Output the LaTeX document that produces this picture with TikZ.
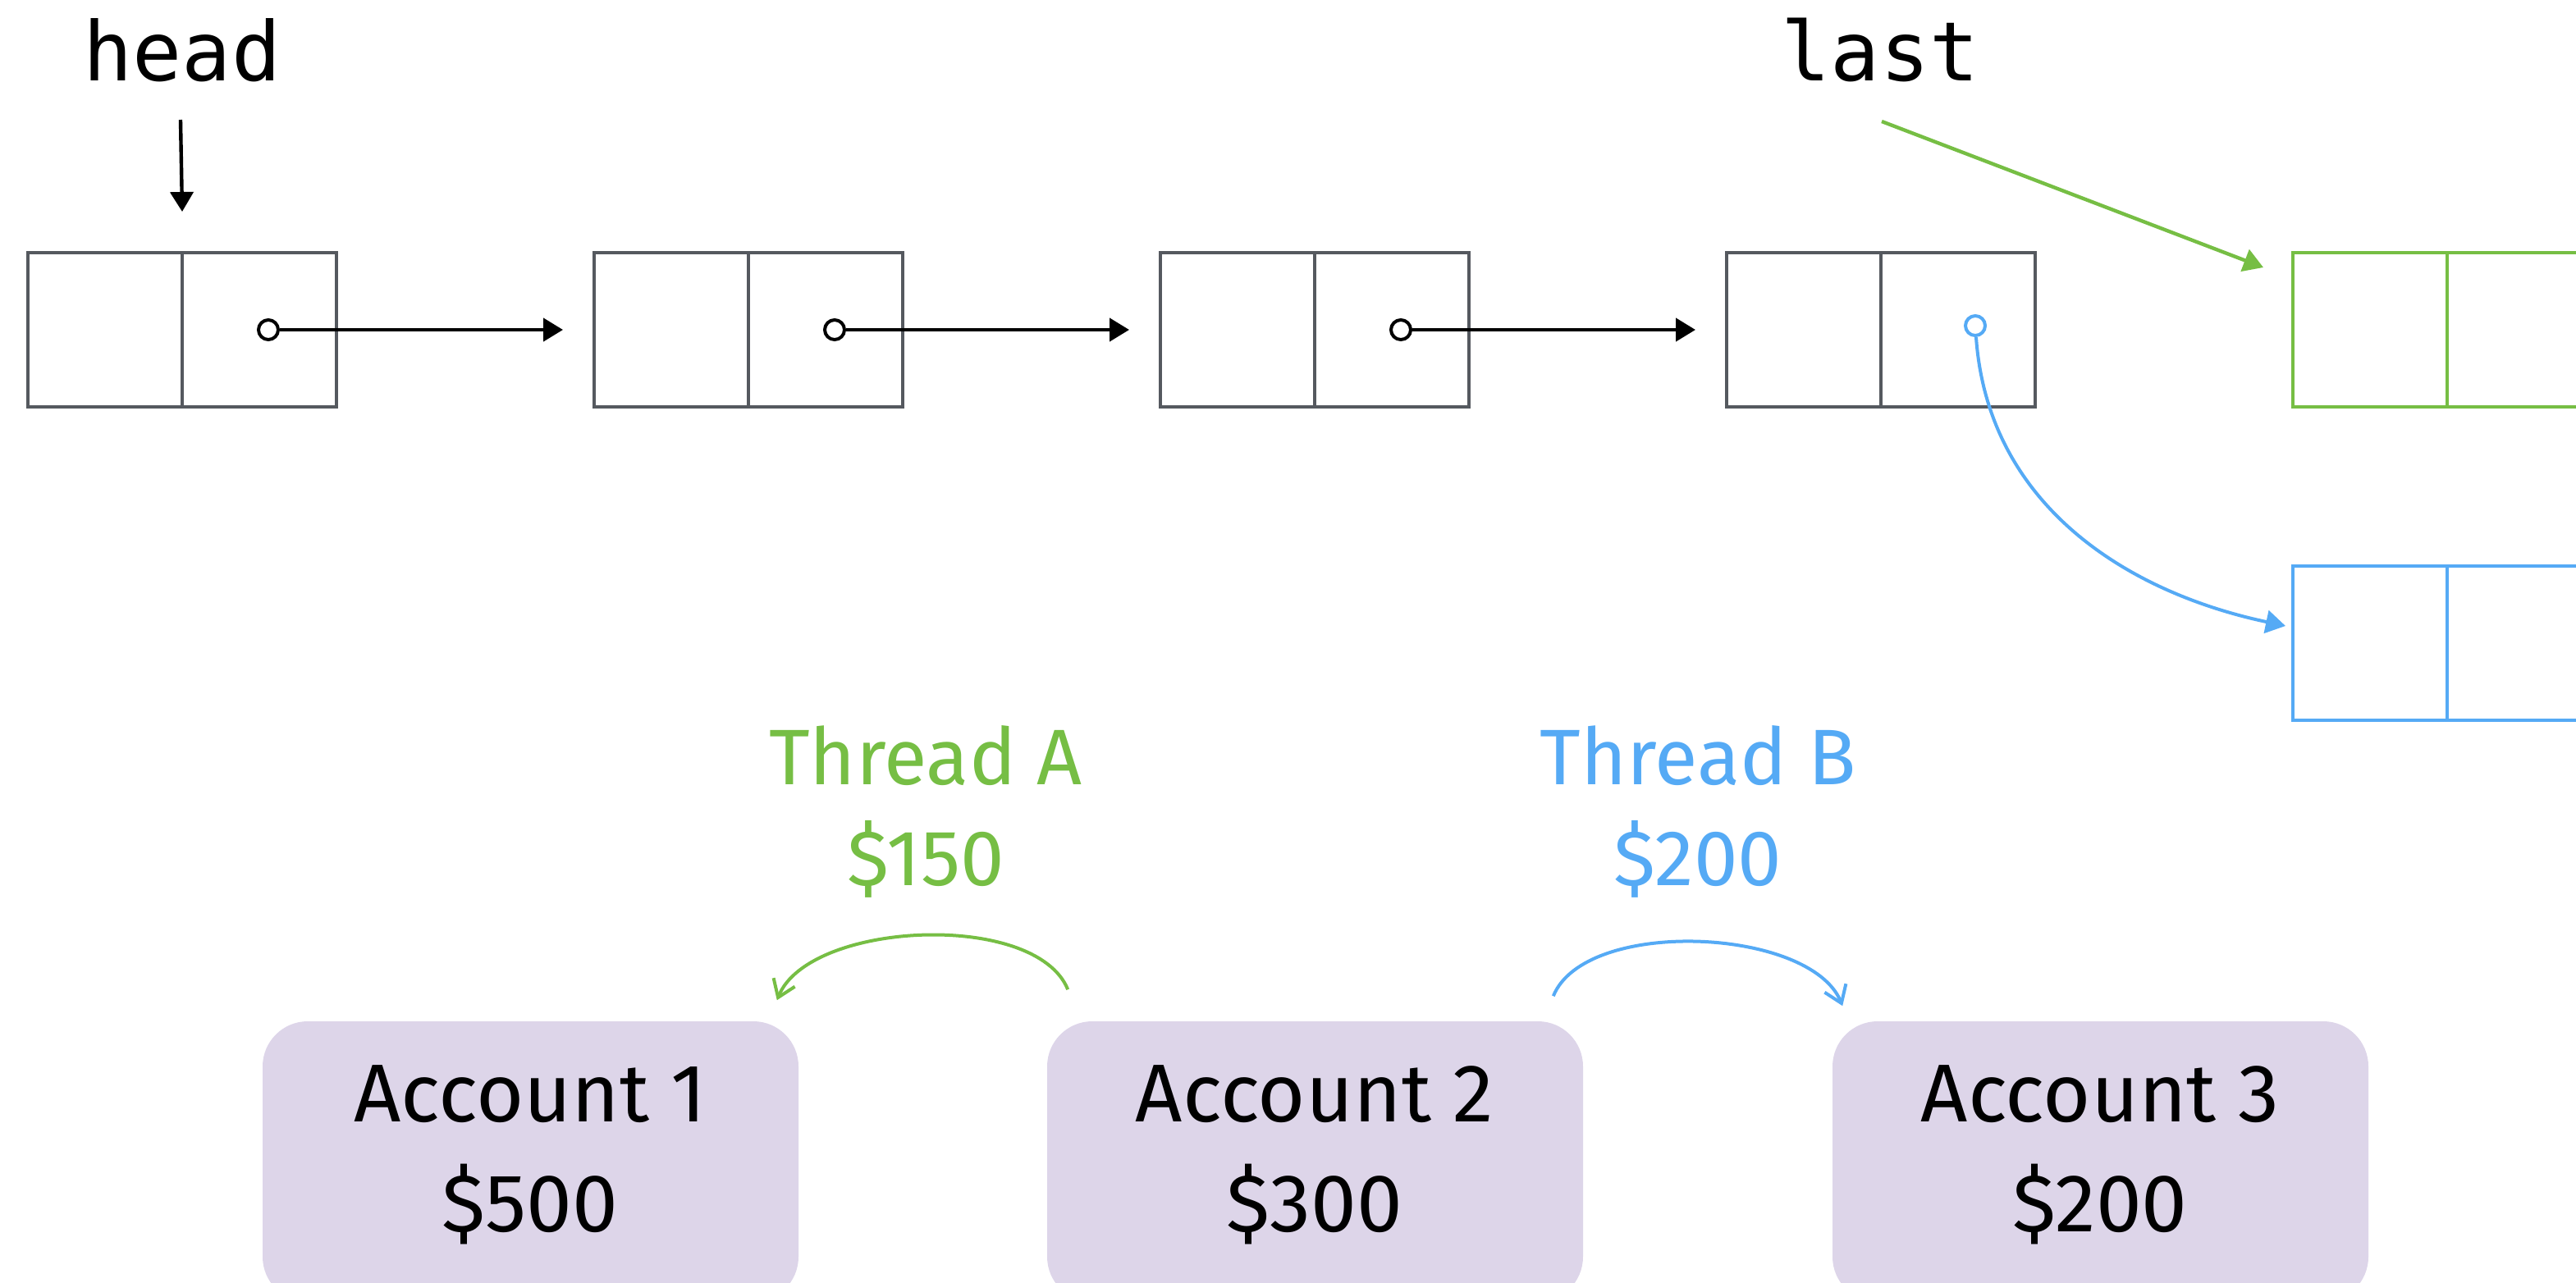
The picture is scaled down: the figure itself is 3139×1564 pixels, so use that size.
\documentclass[tikz,border=0pt]{standalone}
\usepackage{fontspec}
\setmainfont{Fira Sans}
\newfontfamily\codefont{DejaVu Sans Mono}
\usetikzlibrary{arrows.meta}
\definecolor{boxgray}{RGB}{85,89,95}
\definecolor{tgreen}{RGB}{118,190,68}
\definecolor{tblue}{RGB}{85,170,245}
\definecolor{acctfill}{RGB}{221,213,233}
\begin{document}
\begin{tikzpicture}[x=0.25pt,y=0.25pt,
  cell/.style={draw=boxgray,line width=1.1pt,minimum width=47pt,minimum height=47pt,inner sep=0pt,outer sep=0pt},
  gcell/.style={cell,draw=tgreen},
  bcell/.style={cell,draw=tblue},
  dot/.style={circle,draw=black,fill=white,line width=1pt,minimum size=6pt,inner sep=0pt},
  bdot/.style={dot,draw=tblue},
  ptr/.style={line width=1.1pt,-{Triangle[length=6pt,width=7pt]}},
  code/.style={font=\codefont\fontsize{25}{30}\selectfont,inner sep=0pt},
  acct/.style={fill=acctfill,rounded corners=13.75pt,minimum width=163.25pt,minimum height=85.5pt,inner sep=0pt},
  accttext/.style={align=center,font=\fontsize{25}{33.5}\selectfont,inner sep=0pt},
  thread/.style={align=center,font=\fontsize{24}{30.75}\selectfont,inner sep=0pt},
  swing/.style={line width=1pt,-{Straight Barb[length=5pt,width=7pt]},looseness=0.75},
]
\useasboundingbox (0,0) rectangle (3139,-1564);
\clip (0,0) rectangle (3139,-1564);

% labels
\node[code] (head) at (222,-61) {head};
\node[code] (last) at (2291,-61) {last};

% list nodes
\node[cell] (n1a) at (128,-402) {};
\node[cell] (n1b) at (316,-402) {};
\node[cell] (n2a) at (818,-402) {};
\node[cell] (n2b) at (1006,-402) {};
\node[cell] (n3a) at (1508,-402) {};
\node[cell] (n3b) at (1696,-402) {};
\node[cell] (n4a) at (2198,-402) {};
\node[cell] (n4b) at (2386,-402) {};
\node[gcell] (g1a) at (2888,-402) {};
\node[gcell] (g1b) at (3076,-402) {};
\node[bcell] (b1a) at (2888,-784) {};
\node[bcell] (b1b) at (3076,-784) {};

% pointers
\node[dot] (d1) at (327,-402) {};
\node[dot] (d2) at (1017,-402) {};
\node[dot] (d3) at (1707,-402) {};
\node[bdot] (d4) at (2407,-397) {};

\draw[ptr] (d1) -- ([xshift=-9.5pt]n2a.west);
\draw[ptr] (d2) -- ([xshift=-9.5pt]n3a.west);
\draw[ptr] (d3) -- ([xshift=-9.5pt]n4a.west);

\coordinate (headtail) at (220,-146);
\draw[ptr] (headtail) -- ([yshift=12.5pt]n1a.north east);

\coordinate (lasttail) at (2293,-148);
\draw[ptr,color=tgreen] (lasttail) -- ([shift={(-36,-18)}]g1a.north west);

\draw[ptr,color=tblue,line width=1pt] (d4) to[out=-86,in=168] ([shift={(-9,21)}]b1a.west);

% accounts
\node[acct] (acc1) at (646.5,-1416) {};
\node[acct] (acc2) at (1602.5,-1416) {};
\node[acct] (acc3) at (2559.5,-1416) {};
\node[accttext] (acc1t) at (646,-1408) {Account 1\\\$500};
\node[accttext] (acc2t) at (1602,-1408) {Account 2\\\$300};
\node[accttext] (acc3t) at (2559,-1408) {Account 3\\\$200};

% threads
\node[thread,text=tgreen] (tha) at (1128,-989) {Thread A\\\$150};
\node[thread,text=tblue] (thb) at (2069,-989) {Thread B\\\$200};

\coordinate (gaS) at ([shift={(26,38)}]acc2.north west);
\coordinate (gaE) at ([shift={(-27,25)}]acc1.north east);
\draw[swing,color=tgreen] (gaS) to[out=112,in=68] (gaE);

\coordinate (gbS) at ([shift={(-37,30)}]acc2.north east);
\coordinate (gbE) at ([shift={(13,18)}]acc3.north west);
\draw[swing,color=tblue] (gbS) to[out=68,in=112] (gbE);
\end{tikzpicture}
\end{document}
